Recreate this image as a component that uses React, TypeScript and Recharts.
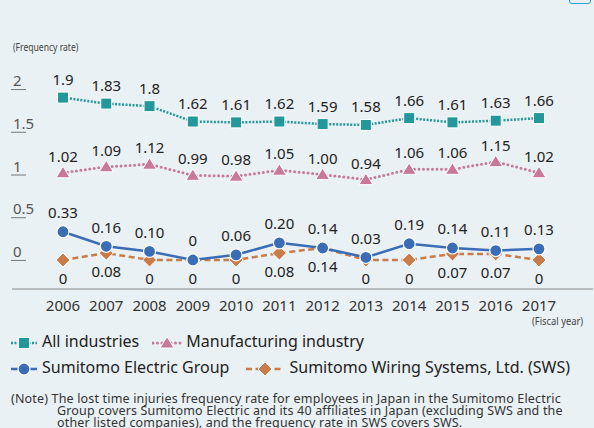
import React from "react";
import { LineChart, Line, XAxis, YAxis, LabelList } from "recharts";

const years = ["2006", "2007", "2008", "2009", "2010", "2011", "2012", "2013", "2014", "2015", "2016", "2017"];
const allIndustries = [1.9, 1.83, 1.8, 1.62, 1.61, 1.62, 1.59, 1.58, 1.66, 1.61, 1.63, 1.66];
const manufacturing = [1.02, 1.09, 1.12, 0.99, 0.98, 1.05, 1.0, 0.94, 1.06, 1.06, 1.15, 1.02];
const sumitomoElectric = [0.33, 0.16, 0.1, 0, 0.06, 0.2, 0.14, 0.03, 0.19, 0.14, 0.11, 0.13];
const sws = [0, 0.08, 0, 0, 0, 0.08, 0.14, 0, 0, 0.07, 0.07, 0];
const yTicks = [0, 0.5, 1, 1.5, 2];

const TEAL = "#23979a";
const PINK = "#c8799b";
const BLUE = "#3a6db5";
const ORANGE = "#c97c4a";

const data = years.map((y, i) => ({
  year: y,
  all: allIndustries[i],
  mfg: manufacturing[i],
  seg: sumitomoElectric[i],
  sws: sws[i],
}));

const fmtPlain = (v: number) => String(v);
const fmt2 = (v: number) => (v === 0 ? "0" : v.toFixed(2));

// markers
const Square = (p: any) => (
  <rect x={p.cx - 5.5} y={p.cy - 5.5} width={11} height={11} fill={TEAL} stroke="#fff" strokeWidth={1} />
);
const Triangle = (p: any) => (
  <path d={`M${p.cx},${p.cy - 6.5} L${p.cx + 7},${p.cy + 5} L${p.cx - 7},${p.cy + 5} Z`} fill={PINK} stroke="#fff" strokeWidth={1} />
);
const Circle = (p: any) => <circle cx={p.cx} cy={p.cy} r={6} fill={BLUE} stroke="#fff" strokeWidth={1.2} />;
const Diamond = (p: any) => (
  <path d={`M${p.cx},${p.cy - 7} L${p.cx + 7},${p.cy} L${p.cx},${p.cy + 7} L${p.cx - 7},${p.cy} Z`} fill={ORANGE} stroke="#fff" strokeWidth={1} />
);

const makeLabel = (dy: number, fmt: (v: number) => string) => (p: any) => (
  <text x={p.x} y={p.y + dy} textAnchor="middle" dominantBaseline="central" fontSize={15} fill="#222" fontFamily="Noto Sans">
    {fmt(Number(p.value))}
  </text>
);

const XTick = (p: any) => (
  <text x={p.x} y={p.y + 8} textAnchor="middle" dominantBaseline="central" fontSize={15} fill="#333" fontFamily="Noto Sans">
    {p.payload.value}
  </text>
);

const YTick = (p: any) => (
  <g>
    <text x={13} y={p.y - 3} textAnchor="start" fontSize={15} fill="#555" fontFamily="Noto Sans">
      {p.payload.value}
    </text>
    <line x1={11} x2={26} y1={p.y + 0.5} y2={p.y + 0.5} stroke="#777" strokeWidth={1} />
  </g>
);

const LegendIcon = ({ color, dash, cap, width, Marker, w }: any) => (
  <svg width={w} height={14} style={{ verticalAlign: "middle", marginRight: 4 }}>
    <line x1={1} x2={w - 1} y1={7} y2={7} stroke={color} strokeWidth={width} strokeDasharray={dash} strokeLinecap={cap} />
    <Marker cx={w / 2} cy={7} />
  </svg>
);

const legendRows = [
  [
    { name: "All industries", color: TEAL, dash: "2 1.5", cap: "butt", width: 2.5, Marker: Square, w: 28 },
    { name: "Manufacturing industry", color: PINK, dash: "0 4.5", cap: "round", width: 3, Marker: Triangle, w: 30 },
  ],
  [
    { name: "Sumitomo Electric Group", color: BLUE, dash: undefined, cap: "butt", width: 2.5, Marker: Circle, w: 28 },
    { name: "Sumitomo Wiring Systems, Ltd. (SWS)", color: ORANGE, dash: "6 3.5", cap: "butt", width: 2.5, Marker: Diamond, w: 40 },
  ],
];

export default function App() {
  return (
    <div
      style={{
        position: "fixed",
        left: 0,
        top: 0,
        width: 594,
        height: 428,
        background: "#eaf1f4",
        overflow: "hidden",
        fontFamily: "Noto Sans",
        color: "#333",
      }}
    >
      <div style={{ position: "absolute", left: 569, top: -10, width: 20, height: 12, border: "1.5px solid #2aa0d8", borderRadius: 3 }} />
      <div
        style={{
          position: "absolute",
          left: 13,
          top: 40,
          fontSize: 11,
          lineHeight: "14px",
          color: "#444",
          transform: "scaleX(0.78)",
          transformOrigin: "left",
          whiteSpace: "nowrap",
        }}
      >
        (Frequency rate)
      </div>
      <LineChart width={594} height={428} data={data} margin={{ top: 60, right: 1, bottom: 109, left: 0 }}>
        <XAxis
          dataKey="year"
          scale="point"
          padding={{ left: 51, right: 54 }}
          axisLine={{ stroke: "#888" }}
          tickLine={false}
          tick={<XTick />}
          interval={0}
          height={30}
        />
        <YAxis
          width={12}
          domain={[-0.34, 2.34]}
          ticks={yTicks}
          axisLine={false}
          tickLine={false}
          tick={<YTick />}
          allowDataOverflow
        />
        <Line type="linear" dataKey="all" stroke={TEAL} strokeWidth={2.5} strokeDasharray="2 1.5" dot={<Square />} activeDot={false} isAnimationActive={false}>
          <LabelList dataKey="all" content={makeLabel(-18.5, fmtPlain)} />
        </Line>
        <Line type="linear" dataKey="mfg" stroke={PINK} strokeWidth={3} strokeDasharray="0 4.5" strokeLinecap="round" dot={<Triangle />} activeDot={false} isAnimationActive={false}>
          <LabelList dataKey="mfg" content={makeLabel(-17, fmt2)} />
        </Line>
        <Line type="linear" dataKey="sws" stroke={ORANGE} strokeWidth={2.5} strokeDasharray="6 3.5" dot={<Diamond />} activeDot={false} isAnimationActive={false}>
          <LabelList dataKey="sws" content={makeLabel(18, fmt2)} />
        </Line>
        <Line type="linear" dataKey="seg" stroke={BLUE} strokeWidth={2.5} dot={<Circle />} activeDot={false} isAnimationActive={false}>
          <LabelList dataKey="seg" content={makeLabel(-19.5, fmt2)} />
        </Line>
      </LineChart>
      <div
        style={{
          position: "absolute",
          left: 532,
          top: 314,
          fontSize: 11,
          lineHeight: "14px",
          color: "#444",
          transform: "scaleX(0.85)",
          transformOrigin: "left",
          whiteSpace: "nowrap",
        }}
      >
        (Fiscal year)
      </div>
      {legendRows.map((row, r) => (
        <div key={r} style={{ position: "absolute", left: 10, top: 330 + r * 26, fontSize: 16, lineHeight: "22px", whiteSpace: "nowrap", color: "#222" }}>
          {row.map((item, i) => (
            <span key={item.name} style={{ marginRight: i === 0 ? (r === 0 ? 13 : 16) : 0 }}>
              <LegendIcon {...item} />
              {item.name}
            </span>
          ))}
        </div>
      ))}
      <div style={{ position: "absolute", left: 11, top: 393, fontSize: 12.5, lineHeight: "12.2px", letterSpacing: 0.17, color: "#333", whiteSpace: "nowrap" }}>
        <div>(Note) The lost time injuries frequency rate for employees in Japan in the Sumitomo Electric</div>
        <div style={{ paddingLeft: 46 }}>Group covers Sumitomo Electric and its 40 affiliates in Japan (excluding SWS and the</div>
        <div style={{ paddingLeft: 46 }}>other listed companies), and the frequency rate in SWS covers SWS.</div>
      </div>
    </div>
  );
}
